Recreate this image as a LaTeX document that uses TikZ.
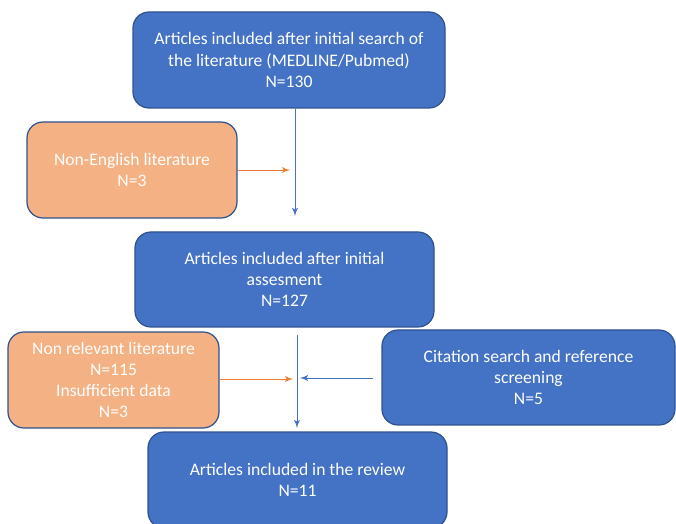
\documentclass[tikz,border=0pt]{standalone}
\usepackage{fontspec}
\setmainfont{Carlito}
\usetikzlibrary{shapes,arrows,calc}
\definecolor{boxblue}{HTML}{4472C4}
\definecolor{boxedge}{HTML}{2F528F}
\definecolor{boxorange}{HTML}{F4B183}
\definecolor{lineorange}{HTML}{ED7D31}
\tikzstyle{line} = [draw, -latex', boxblue]
\tikzstyle{oline} = [draw, -latex', lineorange]
\tikzstyle{block} = [draw=boxedge, fill=boxblue, rectangle, rounded corners=8pt, text=white, align=center, line width=0.6pt, minimum height=48pt, font=\fontsize{8.8}{10.6}\selectfont]
\tikzstyle{excl} = [block, fill=boxorange]

\begin{document}
\begin{tikzpicture}[x=0.5pt, y=-0.5pt]
        \useasboundingbox (0,0) rectangle (676,524);
        \clip (0,0) rectangle (676,524);
        \node[block, minimum width=156pt] (search) at (289,60) {Articles included after initial search of\\the literature (MEDLINE/Pubmed)\\N=130};
        \node[excl, minimum width=105pt] (english) at (132,170) {Non-English literature\\N=3};
        \node[block, minimum width=149.5pt, minimum height=47.5pt] (assess) at (284.5,279.5) {Articles included after initial\\assesment\\N=127};
        \node[excl, minimum width=105.5pt] (relevant) at (113.5,380) {Non relevant literature\\N=115\\Insufficient data\\N=3};
        \node[block, minimum width=146.5pt, minimum height=47.5pt] (citation) at (528.5,377.5) {Citation search and reference\\screening\\N=5};
        \node[block, minimum width=149.5pt] (review) at (297.5,480) {Articles included in the review\\N=11};
        % connectors
        \coordinate (a1) at (295,216);
        \coordinate (m1) at (290,170);
        \coordinate (b0) at (297,335);
        \coordinate (b1) at (297,428);
        \coordinate (m2) at (293,379);
        \coordinate (m3) at (300,378);
        \coordinate (c0) at (373,378);
        \path[line] (search.south -| a1) -- (a1);
        \path[oline] (english.east |- m1) -- (m1);
        \path[line] (b0) -- (b1);
        \path[oline] (relevant.east |- m2) -- (m2);
        \path[line] (c0) -- (m3);
    \end{tikzpicture}
\end{document}
